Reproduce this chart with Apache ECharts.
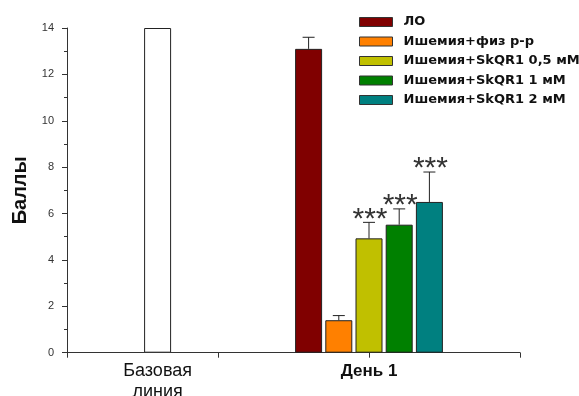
<!DOCTYPE html>
<html>
<head>
<meta charset="utf-8">
<script src="https://cdn.jsdelivr.net/npm/echarts@6/dist/echarts.min.js"></script>
<style>html,body{margin:0;padding:0;background:#fff;}#c{width:579px;height:396px;}</style>
</head>
<body>
<div id="c"></div>
<script>
const groupLabels = ['Базовая\nлиния', 'День 1'];
const seriesNames = ['ЛО', 'Ишемия+физ р-р', 'Ишемия+SkQR1 0,5 мМ', 'Ишемия+SkQR1 1 мМ', 'Ишемия+SkQR1 2 мМ'];
const baselineValue = 14;
const day1Values = [13.1, 1.4, 4.93, 5.52, 6.5];
const day1Errors = [0.5, 0.2, 0.69, 0.68, 1.29];
const day1Stars = ['', '', '***', '***', '***'];
const yMin = 0, yMax = 14, yStep = 2;

const colors = ['#800000', '#ff8000', '#c0c000', '#008000', '#008080'];
const slotCount = 16, baselineSlot = 3, day1Slot = 10;
const firstBarSlot = day1Slot - Math.floor(seriesNames.length / 2);

const categories = [];
for (let i = 0; i < slotCount; i++) categories.push('');
categories[baselineSlot] = groupLabels[0];
categories[day1Slot] = groupLabels[1];

function slotData(slot, v) {
  const d = [];
  for (let i = 0; i < slotCount; i++) d.push(i === slot ? v : '-');
  return d;
}

const series = [{
  name: 'baseline', type: 'bar', barWidth: 27, barGap: '-100%',
  data: slotData(baselineSlot, baselineValue),
  itemStyle: { color: '#ffffff', borderColor: '#222', borderWidth: 1 },
  silent: true
}];
seriesNames.forEach((n, k) => {
  series.push({
    name: n, type: 'bar', barWidth: 27, barGap: '-100%',
    data: slotData(firstBarSlot + k, day1Values[k]),
    itemStyle: { color: colors[k], borderColor: '#222', borderWidth: 1 }
  });
});
const errData = day1Values.map((v, k) => [firstBarSlot + k, v, day1Errors[k], day1Stars[k]]);
series.push({
  name: 'err', type: 'custom', z: 10, silent: true,
  data: errData,
  renderItem: function (params, api) {
    const x = api.value(0), v = api.value(1), e = api.value(2);
    const stars = errData[params.dataIndex][3];
    const p0 = api.coord([x, v]);
    const p1 = api.coord([x, v + e]);
    const st = { stroke: '#222', lineWidth: 1 };
    const children = [
      { type: 'line', shape: { x1: p0[0], y1: p0[1], x2: p1[0], y2: p1[1] }, style: st },
      { type: 'line', shape: { x1: p1[0] - 6, y1: p1[1], x2: p1[0] + 6, y2: p1[1] }, style: st }
    ];
    if (stars) {
      children.push({ type: 'text', x: p1[0] + 1, y: p1[1] - 3,
        style: { text: stars, fontSize: 30, fontFamily: 'Liberation Sans', fill: '#333',
          align: 'center', verticalAlign: 'middle', lineHeight: 30 } });
    }
    return { type: 'group', children: children };
  }
});

const chart = echarts.init(document.getElementById('c'), null, { renderer: 'canvas' });
chart.setOption({
  animation: false,
  backgroundColor: '#fff',
  textStyle: { fontFamily: 'Liberation Sans' },
  grid: { left: 67, right: 59, top: 28, bottom: 43.3, outerBoundsMode: 'none', containLabel: false },
  legend: {
    orient: 'vertical', left: 359, top: 15, padding: 0,
    data: seriesNames,
    icon: 'rect', itemWidth: 33, itemHeight: 9, itemGap: 5.5,
    itemStyle: { borderColor: '#333', borderWidth: 1 },
    textStyle: { fontFamily: 'DejaVu Sans', fontWeight: 'bold', fontSize: 13, color: '#111', lineHeight: 14, padding: [0, 0, 0, 6] }
  },
  xAxis: {
    type: 'category', data: categories, boundaryGap: false,
    axisLine: { lineStyle: { color: '#333', width: 1 } },
    axisTick: { show: true, length: 5, interval: function (i) { return i % 5 === 0; }, lineStyle: { color: '#333' } },
    axisLabel: {
      interval: 0, margin: 8,
      formatter: function (v) { return v === groupLabels[1] ? '{b|' + v + '}' : (v ? '{n|' + v + '}' : ''); },
      rich: {
        n: { fontSize: 18, lineHeight: 21, color: '#111', fontFamily: 'Liberation Sans' },
        b: { fontSize: 17, lineHeight: 21, color: '#111', fontWeight: 'bold', fontFamily: 'Liberation Sans' }
      }
    },
    splitLine: { show: false }
  },
  yAxis: {
    type: 'value', min: yMin, max: yMax, interval: yStep,
    name: 'Баллы', nameLocation: 'middle', nameGap: 33,
    nameTextStyle: { fontSize: 20, fontWeight: 'bold', color: '#111', fontFamily: 'Liberation Sans' },
    axisLine: { show: true, lineStyle: { color: '#333', width: 1 } },
    axisTick: { show: true, length: 5, lineStyle: { color: '#333' } },
    minorTick: { show: true, splitNumber: 2, length: 3, lineStyle: { color: '#333' } },
    axisLabel: { fontSize: 11, color: '#333', margin: 13, fontFamily: 'Liberation Sans' },
    splitLine: { show: false }
  },
  series: series
});
</script>
</body>
</html>
